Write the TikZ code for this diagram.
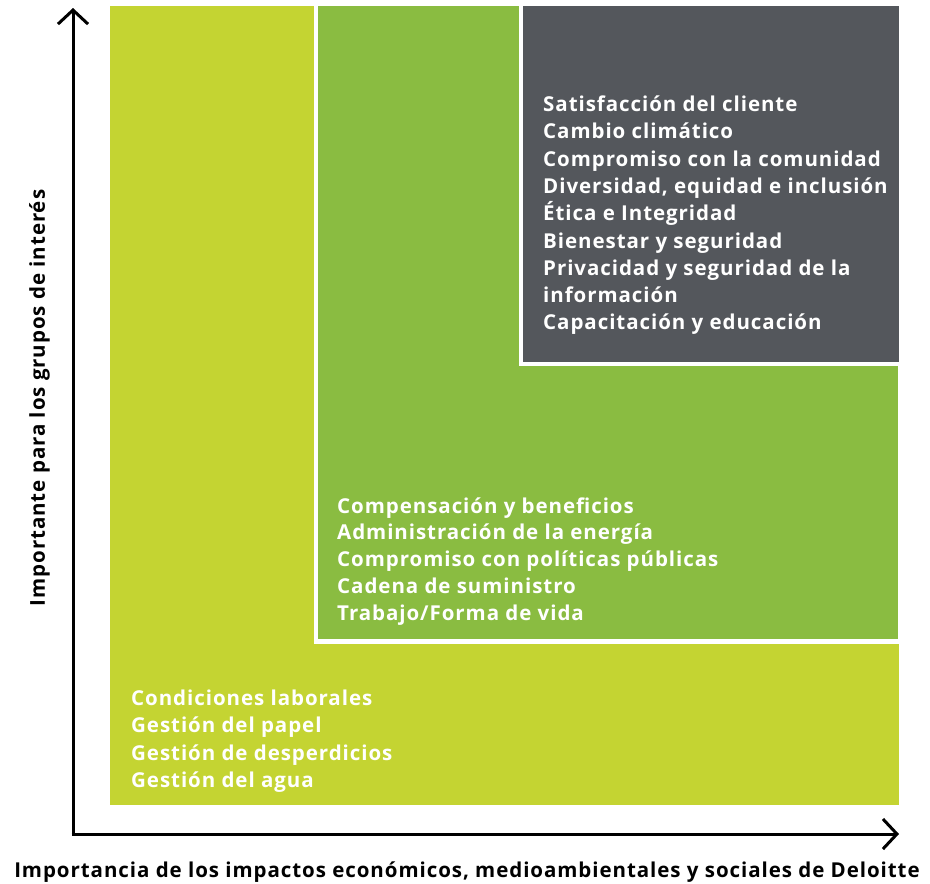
\documentclass[tikz,border=0pt]{standalone}
\usepackage{fontspec}
\setmainfont{Open Sans}[LetterSpace=4.6]
\usetikzlibrary{arrows.meta,calc}
\definecolor{lgreen}{HTML}{C4D432}
\definecolor{mgreen}{HTML}{8ABC41}
\definecolor{dgray}{HTML}{54575C}
\tikzset{
  item/.style={anchor=base west, inner sep=0pt, text=white, font=\bfseries\fontsize{20.5}{20.5}\selectfont},
  axis/.style={line width=3pt, -{Straight Barb[length=14pt,width=30pt,line width=3pt]}},
  axlabel/.style={inner sep=0pt, text=black, font=\bfseries\fontsize{20.5}{20.5}\selectfont}
}
\begin{document}
\begin{tikzpicture}[x=1pt,y=-1pt]
\useasboundingbox (0,0) rectangle (930,884);
% regions
\fill[lgreen] (110,6) rectangle (899,805);
\fill[white] (314,6) rectangle (899,644);
\fill[mgreen] (318,6) rectangle (898,639);
\fill[white] (519,6) rectangle (898,366);
\fill[dgray] (523,6) rectangle (899,362);
% axes
\coordinate (o) at (73,834);
\coordinate (ytip) at (73,8);
\coordinate (xtip) at (899,834);
\draw[axis] ($(o)+(0,1.5)$) -- (ytip);
\draw[axis] ($(o)+(-1.5,0)$) -- (xtip);
% labels
\node[axlabel, anchor=base] (xl) at (467,877) {Importancia de los impactos económicos, medioambientales y sociales de Deloitte};
\node[axlabel, anchor=base, rotate=90] (yl) at (45,398) {Importante para los grupos de interés};
% gray items
\foreach \t [count=\i] in {Satisfacción del cliente, Cambio climático, Compromiso con la comunidad, {Diversidad, equidad e inclusión}, Ética e Integridad, Bienestar y seguridad, Privacidad y seguridad de la, información, Capacitación y educación}
  \node[item] (g\i) at (543,{111.5+27.3*(\i-1)}) {\t};
% medium green items
\foreach \t [count=\i] in {Compensación y beneficios, Administración de la energía, Compromiso con políticas públicas, Cadena de suministro, Trabajo/Forma de vida}
  \node[item] (m\i) at (337,{513+26.9*(\i-1)}) {\t};
% light green items
\foreach \t [count=\i] in {Condiciones laborales, Gestión del papel, Gestión de desperdicios, Gestión del agua}
  \node[item] (l\i) at (131,{705+27.6*(\i-1)}) {\t};
\end{tikzpicture}
\end{document}
